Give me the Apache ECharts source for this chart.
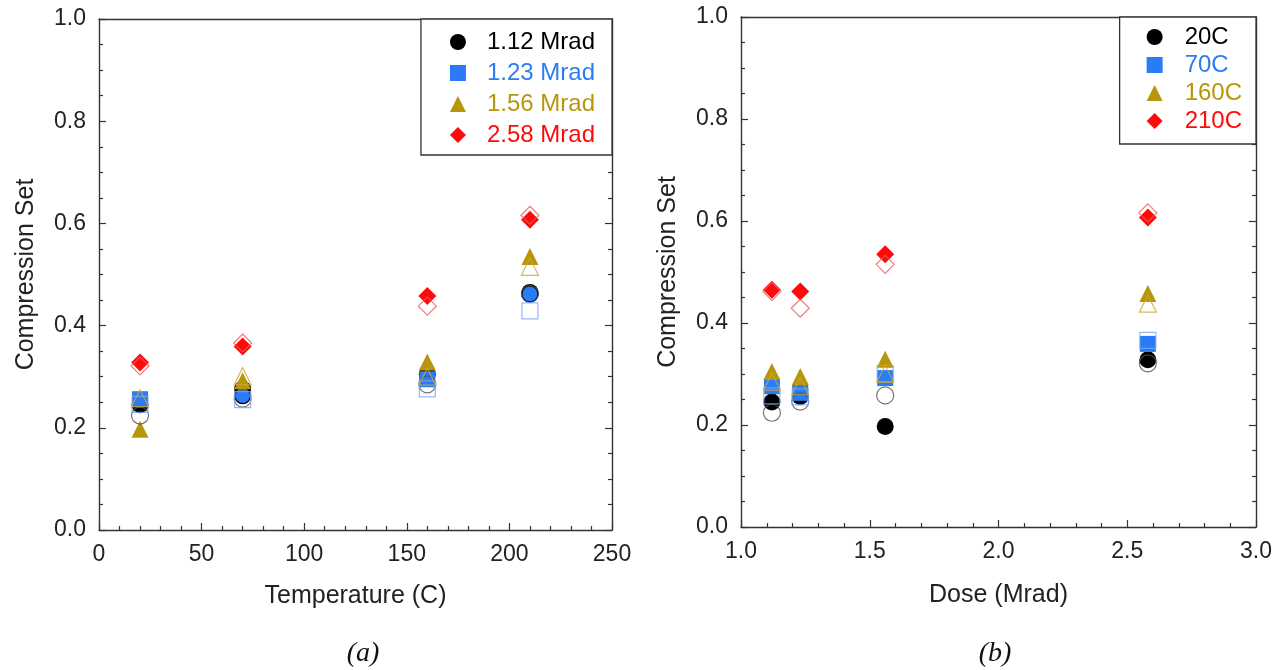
<!DOCTYPE html>
<html>
<head>
<meta charset="utf-8">
<script src="https://cdn.jsdelivr.net/npm/echarts@6/dist/echarts.min.js"></script>
<style>
html,body{margin:0;padding:0;background:#fff;}
#chart{width:1286px;height:670px;}
</style>
</head>
<body>
<div id="chart"></div>
<script>
// ---- data ----
const temps = [20, 70, 160, 210];           // Temperature (C)
const doses = [1.12, 1.23, 1.56, 2.58];     // Dose (Mrad)
const doseLabels = ['1.12 Mrad', '1.23 Mrad', '1.56 Mrad', '2.58 Mrad'];
const tempLabels = ['20C', '70C', '160C', '210C'];
// compression set, first specimen (filled markers), one array per temperature, values by dose
const filled20C  = [0.245, 0.256, 0.197, 0.328];
const filled70C  = [0.276, 0.263, 0.292, 0.359];
const filled160C = [0.305, 0.295, 0.329, 0.458];
const filled210C = [0.465, 0.462, 0.535, 0.607];
// compression set, second specimen (open markers)
const open20C  = [0.224, 0.246, 0.258, 0.321];
const open70C  = [0.257, 0.255, 0.301, 0.366];
const open160C = [0.285, 0.276, 0.300, 0.438];
const open210C = [0.462, 0.429, 0.515, 0.616];
const yTicks = ['0.0', '0.2', '0.4', '0.6', '0.8', '1.0'];

const filled = [filled20C, filled70C, filled160C, filled210C];
const opened = [open20C, open70C, open160C, open210C];

const colors = ['#000000', '#2a7bf6', '#b8960c', '#ff0a0a'];
const openColors = ['#505050', '#7aa6f2', '#c9a935', '#ee5a5a'];
const symbols = ['circle', 'rect', 'triangle', 'diamond'];
const sizes = [17, 16, 17, 18];

const font = 'Liberation Sans, Arial, sans-serif';
const tickFont = 23;
const titleFont = 25;

function axisCommon(extra) {
  return Object.assign({
    type: 'value',
    splitLine: {show: false},
    axisLine: {show: true, onZero: false, lineStyle: {color: '#333', width: 1.4}},
    axisTick: {show: true, inside: true, length: 7, lineStyle: {color: '#333', width: 1.2}},
    minorTick: {show: true, length: 4, lineStyle: {color: '#333', width: 1.2}},
    nameTextStyle: {fontFamily: font, fontSize: titleFont, color: '#222'},
    axisLabel: {fontFamily: font, fontSize: tickFont, color: '#222'}
  }, extra);
}

const xAxes = [
  axisCommon({gridIndex: 0, position: 'bottom', min: 0, max: 250, interval: 50,
    minorTick: {show: true, splitNumber: 5, length: 4, lineStyle: {color: '#333', width: 1.2}},
    axisLabel: {fontFamily: font, fontSize: tickFont, color: '#222', margin: 13},
    name: 'Temperature (C)', nameLocation: 'middle', nameGap: 54}),
  axisCommon({gridIndex: 0, position: 'top', min: 0, max: 250, interval: 50,
    axisTick: {show: false}, minorTick: {show: false}, axisLabel: {show: false}}),
  axisCommon({gridIndex: 1, position: 'bottom', min: 1, max: 3, interval: 0.5,
    minorTick: {show: true, splitNumber: 5, length: 4, lineStyle: {color: '#333', width: 1.2}},
    axisLabel: {fontFamily: font, fontSize: tickFont, color: '#222', margin: 13, formatter: v => v.toFixed(1)},
    name: 'Dose (Mrad)', nameLocation: 'middle', nameGap: 56}),
  axisCommon({gridIndex: 1, position: 'top', min: 1, max: 3, interval: 0.5,
    axisTick: {show: false}, minorTick: {show: false}, axisLabel: {show: false}})
];

function yAxisFor(grid, pos, labels) {
  return axisCommon({gridIndex: grid, position: pos, min: 0, max: 1, interval: 0.2,
    minorTick: {show: true, splitNumber: 4, length: 4, lineStyle: {color: '#333', width: 1.2}},
    axisLabel: labels ? {fontFamily: font, fontSize: tickFont, color: '#222', margin: 13,
      formatter: (v) => yTicks[Math.round(v / 0.2)]} : {show: false},
    name: labels ? 'Compression Set' : '', nameLocation: 'middle', nameGap: 60, nameRotate: 90});
}
const yAxes = [yAxisFor(0, 'left', true), yAxisFor(0, 'right', false),
               yAxisFor(1, 'left', true), yAxisFor(1, 'right', false)];

const series = [];
// Left plot: x = temperature, one series per dose
for (let d = 0; d < doses.length; d++) {
  series.push({
    name: doseLabels[d] + ' (2)', type: 'scatter', xAxisIndex: 0, yAxisIndex: 0,
    symbol: symbols[d], symbolSize: sizes[d], z: 4,
    itemStyle: {color: 'rgba(0,0,0,0)', borderColor: openColors[d], borderWidth: 1.2},
    data: temps.map((t, i) => [t, opened[i][d]])
  });
}
for (let d = 0; d < doses.length; d++) {
  series.push({
    name: doseLabels[d], type: 'scatter', xAxisIndex: 0, yAxisIndex: 0,
    symbol: symbols[d], symbolSize: sizes[d], z: 3,
    itemStyle: {color: colors[d], opacity: 1},
    data: temps.map((t, i) => {
      const item = {value: [t, filled[i][d]]};
      if (d === 1 && (t === 70 || t === 210)) {
        item.symbol = 'circle';
        item.itemStyle = {borderColor: '#000', borderWidth: 1.2};
      }
      return item;
    })
  });
}
// Right plot: x = dose, one series per temperature
for (let i = 0; i < temps.length; i++) {
  series.push({
    name: tempLabels[i] + ' (2)', type: 'scatter', xAxisIndex: 2, yAxisIndex: 2,
    symbol: symbols[i], symbolSize: sizes[i], z: 4,
    itemStyle: {color: 'rgba(0,0,0,0)', borderColor: openColors[i], borderWidth: 1.2},
    data: doses.map((x, d) => [x, opened[i][d]])
  });
}
for (let i = 0; i < temps.length; i++) {
  series.push({
    name: tempLabels[i], type: 'scatter', xAxisIndex: 2, yAxisIndex: 2,
    symbol: symbols[i], symbolSize: sizes[i], z: 3,
    itemStyle: {color: colors[i], opacity: 1},
    data: doses.map((x, d) => [x, filled[i][d]])
  });
}

const serifFont = 'Liberation Serif, Times New Roman, serif';
const chart = echarts.init(document.getElementById('chart'), null, {renderer: 'canvas'});
chart.setOption({
  animation: false,
  backgroundColor: '#fff',
  grid: [
    {left: 99, top: 19, width: 513, height: 511},
    {left: 741, top: 17, width: 515, height: 510}
  ],
  xAxis: xAxes,
  yAxis: yAxes,
  title: [
    {text: '(a)', left: 358, top: 635, textAlign: 'center',
     textStyle: {fontFamily: serifFont, fontStyle: 'italic', fontWeight: 'normal', fontSize: 28, color: '#111'}},
    {text: '(b)', left: 990, top: 635, textAlign: 'center',
     textStyle: {fontFamily: serifFont, fontStyle: 'italic', fontWeight: 'normal', fontSize: 28, color: '#111'}}
  ],
  legend: [
    {orient: 'vertical', right: 674, top: 19, selectedMode: false,
     backgroundColor: '#fff', borderColor: '#333', borderWidth: 1.3,
     padding: [11, 17, 8, 29], itemWidth: 16, itemHeight: 16, itemGap: 7,
     textStyle: {fontFamily: font, fontSize: 24, lineHeight: 24, padding: [0, 0, 0, 16]},
     data: doseLabels.map((n, d) => ({name: n, textStyle: {color: colors[d]}}))},
    {orient: 'vertical', right: 30, top: 17, selectedMode: false,
     backgroundColor: '#fff', borderColor: '#333', borderWidth: 1.3,
     padding: [8, 14, 11, 27], itemWidth: 16, itemHeight: 16, itemGap: 4,
     textStyle: {fontFamily: font, fontSize: 24, lineHeight: 24, padding: [0, 0, 0, 17]},
     data: tempLabels.map((n, i) => ({name: n, textStyle: {color: colors[i]}}))}
  ],
  series: series
});
</script>
</body>
</html>
